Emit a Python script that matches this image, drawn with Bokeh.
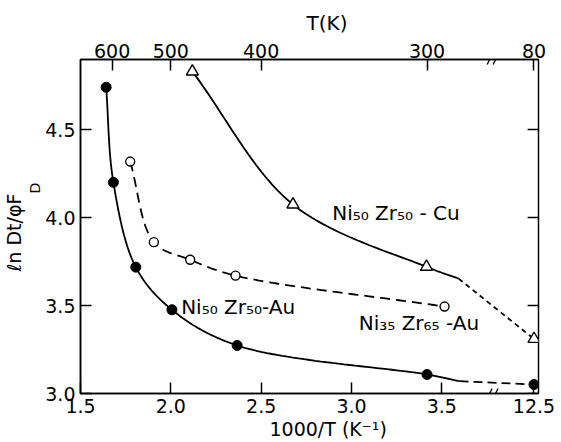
import numpy as np
from bokeh.plotting import figure
from bokeh.models import LinearAxis, FixedTicker, Label, Arrow, Range1d, Title
from bokeh.embed import file_html
from bokeh.resources import INLINE

# ---------------- data ----------------
# bottom axis: 1000/T (K^-1); the last value (12.5) lies beyond an axis break
x_ticks = [1.5, 2.0, 2.5, 3.0, 3.5, 12.5]
x_tick_labels = ["1.5", "2.0", "2.5", "3.0", "3.5", "12.5"]
# top axis: T (K)
top_T_labels = ["600", "500", "400", "300", "80"]
top_T_pos = [1.675, 2.0, 2.5, 3.418, 12.5]   # 1000/T positions as drawn
y_ticks = [3.0, 3.5, 4.0, 4.5]

# Ni50Zr50-Au (filled circles)
au50_x = [1.642, 1.682, 1.806, 2.006, 2.367, 3.418, 12.5]
au50_y = [4.74, 4.20, 3.718, 3.476, 3.273, 3.108, 3.051]
au50_solid_end = (3.598, 3.07)      # where the drawn curve turns dashed
# Ni35Zr65-Au (open circles, dashed)
au35_x = [1.775, 1.906, 2.107, 2.358, 3.515]
au35_y = [4.318, 3.86, 3.76, 3.67, 3.494]
# Ni50Zr50-Cu (open triangles)
cu50_x = [2.119, 2.676, 3.415, 12.5]
cu50_y = [4.83, 4.074, 3.72, 3.31]
cu50_solid_end = (3.593, 3.653)

# ---------------- axis-break mapping ----------------
BREAK_AT = 3.781          # position of the // marks
FAR_POS = 4.01            # where 12.5 is placed on the compressed axis
X_START, X_END = 1.5, 4.035
Y_START, Y_END = 3.0, 4.898


def bx(v):
    return FAR_POS if v >= 10 else v


def smooth(xs, ys, n=40, sx=183.0, sy=176.0):
    P = np.column_stack([np.asarray(xs) * sx, np.asarray(ys) * sy])
    P = np.vstack([2 * P[0] - P[1], P, 2 * P[-1] - P[-2]])
    out = []
    for i in range(1, len(P) - 2):
        P0, P1, P2, P3 = P[i - 1], P[i], P[i + 1], P[i + 2]
        def tj(ti, a, b):
            return ti + max(np.hypot(*(b - a)), 1e-9) ** 0.5
        t0 = 0.0
        t1 = tj(t0, P0, P1)
        t2 = tj(t1, P1, P2)
        t3 = tj(t2, P2, P3)
        t = np.linspace(t1, t2, n)[:, None]
        A1 = (t1 - t) / (t1 - t0) * P0 + (t - t0) / (t1 - t0) * P1
        A2 = (t2 - t) / (t2 - t1) * P1 + (t - t1) / (t2 - t1) * P2
        A3 = (t3 - t) / (t3 - t2) * P2 + (t - t2) / (t3 - t2) * P3
        B1 = (t2 - t) / (t2 - t0) * A1 + (t - t0) / (t2 - t0) * A2
        B2 = (t3 - t) / (t3 - t1) * A2 + (t - t1) / (t3 - t1) * A3
        C = (t2 - t) / (t2 - t1) * B1 + (t - t1) / (t2 - t1) * B2
        out.append(C if i == 1 else C[1:])
    C = np.vstack(out)
    return C[:, 0] / sx, C[:, 1] / sy


FONT = "DejaVu Sans"
FS = "19px"

p = figure(width=561, height=442, output_backend="svg", toolbar_location=None,
           x_range=Range1d(X_START, X_END), y_range=Range1d(Y_START, Y_END),
           min_border_left=74, min_border_right=23, min_border_top=59,
           min_border_bottom=49, background_fill_color="white",
           border_fill_color="white", x_axis_location=None, y_axis_location=None)
p.grid.visible = False
p.outline_line_color = "black"
p.outline_line_width = 1.5


def style_axis(ax):
    ax.axis_line_color = "black"
    ax.axis_line_width = 1.5
    ax.major_tick_line_color = "black"
    ax.major_tick_line_width = 1.5
    ax.major_tick_in = 11
    ax.major_tick_out = 0
    ax.minor_tick_line_color = None
    ax.major_label_text_font = FONT
    ax.major_label_text_font_size = FS
    ax.major_label_text_color = "black"


bottom = LinearAxis(ticker=FixedTicker(ticks=[bx(v) for v in x_ticks]))
bottom.major_label_overrides = {bx(v): s for v, s in zip(x_ticks, x_tick_labels)}
style_axis(bottom)
bottom.major_label_standoff = 5
p.add_layout(bottom, "below")

top = LinearAxis(ticker=FixedTicker(ticks=[bx(v) for v in top_T_pos]))
top.major_label_overrides = {bx(v): s for v, s in zip(top_T_pos, top_T_labels)}
style_axis(top)
top.major_label_standoff = 2
p.add_layout(top, "above")

left = LinearAxis(ticker=FixedTicker(ticks=y_ticks))
left.major_label_overrides = {v: f"{v:.1f}" for v in y_ticks}
style_axis(left)
left.major_label_standoff = 5
p.add_layout(left, "left")


def title(text, side, offset, size, standoff=0, valign="bottom"):
    p.add_layout(Title(text=text, align="left", offset=offset, standoff=standoff,
                       vertical_align=valign,
                       text_font=FONT, text_font_size=size, text_font_style="normal",
                       text_color="black"), side)


# axis titles (subscript D of the y title set as its own smaller piece)
title("D", "left", 200, "14px")
title("ℓn Dt/φF", "left", 122, "19px")
title("T(K)", "above", 226, "20px", standoff=8, valign="top")
title("1000/T (K⁻¹)", "below", 189, "19px")

# inward ticks on the right frame edge
dxp, dyp = 1.0 / 183, 1.0 / 176
p.segment(x0=[X_END - 11 * dxp] * len(y_ticks), x1=[X_END] * len(y_ticks),
          y0=y_ticks, y1=y_ticks, line_color="black", line_width=1.5)

# ---------------- curves ----------------
LW = 1.8
# Ni50Zr50-Au
sx_, sy_ = smooth(au50_x[:-1] + [au50_solid_end[0]], au50_y[:-1] + [au50_solid_end[1]])
p.line(sx_, sy_, line_color="black", line_width=LW)
p.line([au50_solid_end[0], bx(au50_x[-1])], [au50_solid_end[1], au50_y[-1]],
       line_color="black", line_width=LW, line_dash="9 5")
p.scatter([bx(v) for v in au50_x], au50_y, marker="circle", size=10,
          fill_color="black", line_color="black")

# Ni35Zr65-Au
sx_, sy_ = smooth(au35_x, au35_y)
p.line(sx_, sy_, line_color="black", line_width=LW, line_dash="10 6")
p.scatter(au35_x, au35_y, marker="circle", size=9, fill_color="white",
          line_color="black", line_width=1.4)

# Ni50Zr50-Cu
sx_, sy_ = smooth(cu50_x[:-1] + [cu50_solid_end[0]], cu50_y[:-1] + [cu50_solid_end[1]])
p.line(sx_, sy_, line_color="black", line_width=LW)
p.line([cu50_solid_end[0], bx(cu50_x[-1])], [cu50_solid_end[1], cu50_y[-1]],
       line_color="black", line_width=LW, line_dash="5 4")
p.scatter([bx(v) for v in cu50_x], cu50_y, marker="triangle", size=12,
          fill_color="white", line_color="black", line_width=1.4)

# ---------------- axis break marks ----------------
for yb in (Y_START, Y_END):
    for off in (-3.0, 3.0):
        cx = BREAK_AT + off * dxp
        p.add_layout(Arrow(x_start=cx - 2.5 * dxp, y_start=yb - 5 * dyp,
                           x_end=cx + 2.5 * dxp, y_end=yb + 5 * dyp,
                           start=None, end=None, line_color="black", line_width=1.3))

# ---------------- series labels ----------------
def lab(x, y, text, size="20px"):
    p.add_layout(Label(x=x, y=y, text=text, text_font=FONT, text_font_size=size,
                       text_color="black", text_align="left", text_baseline="middle"))

lab(2.893, 4.028, "Ni₅₀ Zr₅₀ - Cu")
lab(3.04, 3.403, "Ni₃₅ Zr₆₅ -Au")
lab(2.057, 3.494, "Ni₅₀ Zr₅₀-Au")

open("out.html", "w").write(file_html(p, INLINE))
